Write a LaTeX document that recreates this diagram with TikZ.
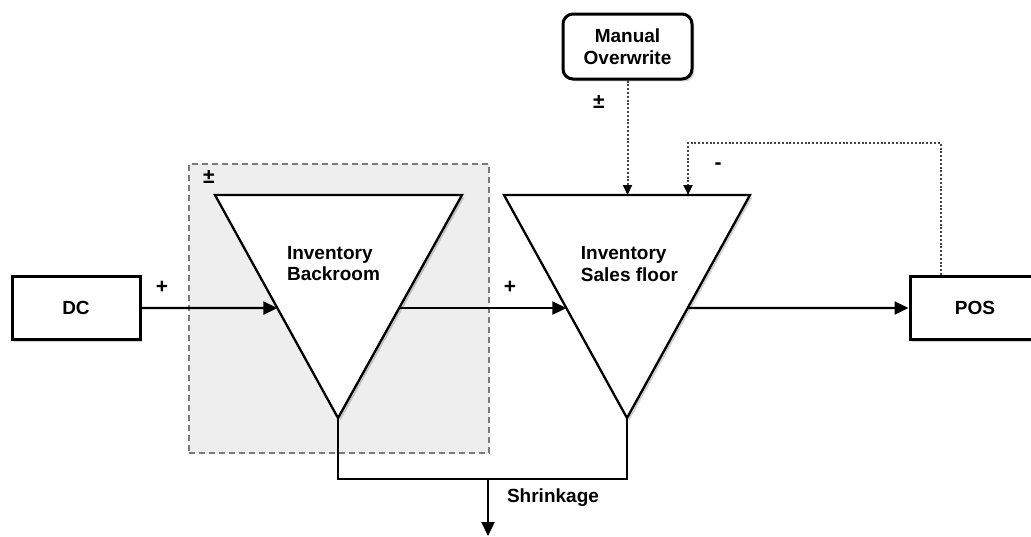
\documentclass[tikz,border=0pt]{standalone}
\usepackage{fontspec}
\setmainfont{Liberation Sans}
\usetikzlibrary{arrows.meta,positioning,calc,shadows}
\definecolor{AreaGray}{HTML}{EEEEEE}
\definecolor{DashGray}{HTML}{7A7A7A}
\definecolor{DotGray}{HTML}{444444}

\begin{document}
\begin{tikzpicture}[x=0.5pt,y=-0.5pt,
  every node/.style={font=\fontsize{9.5}{10.75}\selectfont\bfseries},
  softshadow/.style={drop shadow={shadow xshift=1.2pt,shadow yshift=-1.2pt,fill=black,opacity=.18}},
  box/.style={draw,line width=1.5pt,fill=white,softshadow,inner sep=0pt,minimum width=64pt,minimum height=31.5pt},
  tri/.style={line width=1.15pt,fill=white,line join=miter,softshadow},
  flow/.style={->,line width=1.15pt,>={Triangle[length=7pt,width=6.5pt]}},
  dotflow/.style={->,DotGray,line width=1pt,dash pattern=on 1pt off .9pt,>={Triangle[length=5pt,width=4.5pt,color=black]}},
  sign/.style={inner sep=0pt,font=\fontsize{10.5}{12}\selectfont\bfseries}]
\useasboundingbox (0,0) rectangle (1031,536);
% backroom area
\node[draw=DashGray,fill=AreaGray,line width=1pt,dash pattern=on 3pt off 2pt,inner sep=0pt,
  minimum width=150pt,minimum height=144.5pt,anchor=north west] (area) at (188,163) {};
% boxes
\node[box] (dc) at (76,308) {DC};
\node[box,minimum width=65pt] (pos) at (975,308) {POS};
\node[box,rounded corners=5pt,minimum width=64.5pt,minimum height=32.5pt,align=center] (manual) at (627.5,46.5) {Manual\\Overwrite};
% inventory triangles
\coordinate (B-tl) at (215,195); \coordinate (B-tr) at (462,195); \coordinate (B-apex) at (338,418);
\coordinate (S-tl) at (504,195); \coordinate (S-tr) at (750,195); \coordinate (S-apex) at (627,418);
\filldraw[tri] (B-tl) -- (B-tr) -- (B-apex) -- cycle;
\filldraw[tri] (S-tl) -- (S-tr) -- (S-apex) -- cycle;
\node[align=left] (B-txt) at (333.5,263.5) {Inventory\\Backroom};
\node[align=left] (S-txt) at (629.5,264) {Inventory\\Sales floor};
\coordinate (B-in) at ($(B-tl)!0.507!(B-apex)$);
\coordinate (B-out) at ($(B-tr)!0.507!(B-apex)$);
\coordinate (S-in) at ($(S-tl)!0.507!(S-apex)$);
\coordinate (S-out) at ($(S-tr)!0.507!(S-apex)$);
\coordinate (S-fb) at ($(S-tl)!0.748!(S-tr)$);
% flows
\draw[flow] (dc.east) -- (B-in);
\draw[flow] (B-out) -- (S-in);
\draw[flow] (S-out) -- (pos.west);
\draw[dotflow] (manual.south) -- (manual.south |- S-tl);
\draw[dotflow] ([xshift=16pt]pos.north west) |- ($(S-fb)+(0,-52)$) -- (S-fb);
% shrinkage
\coordinate (shr-top) at (488,479);
\coordinate (shr-end) at (488,536);
\draw[line width=1.15pt] (B-apex) -- ++(0,61) -| (S-apex);
\draw[flow] (shr-top) -- (shr-end);
\node[anchor=west] (shr-lbl) at (500,498) {Shrinkage};
% signs
\node[sign] (s-dc) at (162,287) {+};
\node[sign] (s-br) at (510,287) {+};
\node[sign] (s-area) at (209,177) {±};
\node[sign] (s-man) at (599,102) {±};
\node[sign] (s-pos) at (718,166) {-};
\end{tikzpicture}
\end{document}
